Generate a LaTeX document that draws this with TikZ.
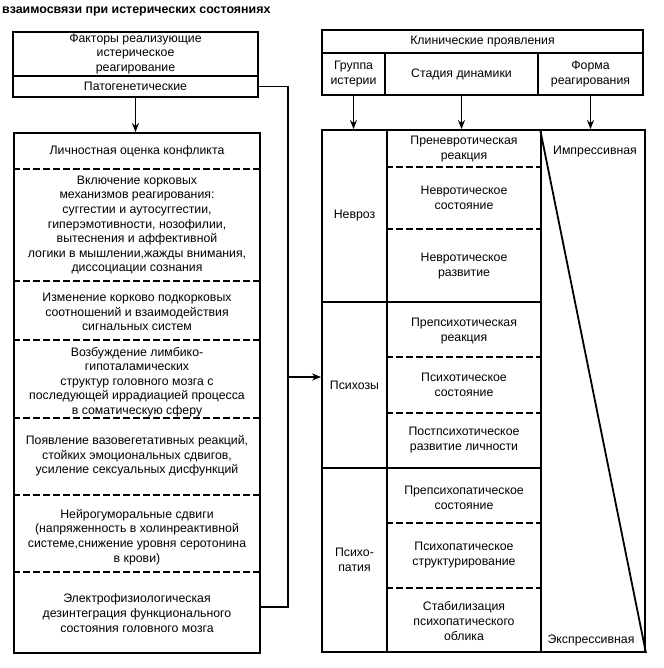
\documentclass[tikz,border=0pt]{standalone}
\usepackage{fontspec}
\setmainfont{Liberation Sans}
\usetikzlibrary{arrows.meta, positioning}

\tikzset{
  frame/.style={draw, line width=1.9pt, inner sep=0pt},
  txt/.style={align=center, inner sep=1pt, font=\fontsize{12.3}{14.6}\selectfont},
  cut/.style={line width=1.5pt, dash pattern=on 7pt off 3pt},
  link/.style={line width=1.8pt},
  arr/.style={link, -{Stealth[length=9pt, width=7pt]}}
}

\begin{document}
\begin{tikzpicture}[x=1pt, y=-1pt]
    \useasboundingbox (0,0) rectangle (663,668);

    % title
    \node[anchor=west, inner sep=0pt, font=\bfseries\fontsize{12.4}{13}\selectfont] (title) at (2,11) {взаимосвязи при истерических состояниях};

    % left column
    \node[frame, txt, minimum width=245pt, minimum height=44pt] (factors) at (135.5,54) {Факторы реализующие\\истерическое\\реагирование};
    \node[frame, txt, minimum width=245pt, minimum height=21pt] (patho) at (135.5,86.5) {Патогенетические};

    \node[frame, minimum width=246pt, minimum height=520pt] (lbox) at (137,393) {};
    \node[txt] (conflict) at (137,151) {Личностная оценка конфликта};
    \node[txt] (cortex) at (137,225) {Включение корковых\\механизмов реагирования:\\суггестии и аутосуггестии,\\гиперэмотивности, нозофилии,\\вытеснения и аффективной\\логики в мышлении,жажды внимания,\\диссоциации сознания};
    \node[txt] (subcort) at (137,312) {Изменение корково подкорковых\\соотношений и взаимодействия\\сигнальных систем};
    \node[txt] (limbic) at (137,382) {Возбуждение лимбико-\\гипоталамических\\структур головного мозга с\\последующей иррадиацией процесса\\в соматическую сферу};
    \node[txt] (vegetat) at (137,456) {Появление вазовегетативных реакций,\\стойких эмоциональных сдвигов,\\усиление сексуальных дисфункций};
    \node[txt] (humoral) at (137,537) {Нейрогуморальные сдвиги\\(напряженность в холинреактивной\\системе,снижение уровня серотонина\\в крови)};
    \node[txt] (electro) at (137,613) {Электрофизиологическая\\дезинтеграция функционального\\состояния головного мозга};
    \foreach \y in {169,281,340,418,495,572}
        \draw[cut] (lbox.west |- 0,\y) -- (lbox.east |- 0,\y);

    % right column, header
    \node[frame, txt, minimum width=321pt, minimum height=23pt] (clin) at (482.5,41.5) {Клинические проявления};
    \node[frame, txt, minimum width=63pt, minimum height=42pt] (hgrp) at (353.5,74) {Группа\\истерии};
    \node[frame, txt, minimum width=153pt, minimum height=42pt] (hstage) at (461.5,74) {Стадия динамики};
    \node[frame, txt, minimum width=105pt, minimum height=42pt] (hform) at (590.5,74) {Форма\\реагирования};

    % right column, body
    \node[frame, txt, minimum width=65pt, minimum height=172pt] (grp1) at (354.5,216) {Невроз};
    \node[frame, txt, minimum width=65pt, minimum height=166pt] (grp2) at (354.5,385) {Психозы};
    \node[frame, txt, minimum width=65pt, minimum height=184pt] (grp3) at (354.5,560) {Психо-\\патия};
    \node[frame, minimum width=154pt, minimum height=172pt] (stg1) at (464,216) {};
    \node[frame, minimum width=154pt, minimum height=166pt] (stg2) at (464,385) {};
    \node[frame, minimum width=154pt, minimum height=184pt] (stg3) at (464,560) {};
    \node[frame, minimum width=104pt, minimum height=522pt] (form) at (593,391) {};

    \node[txt] (prenevr) at (464,149) {Преневротическая\\реакция};
    \node[txt] (nevrsost) at (464,198) {Невротическое\\состояние};
    \node[txt] (nevrrazv) at (464,266) {Невротическое\\развитие};
    \node[txt] (prepsih) at (464,331) {Препсихотическая\\реакция};
    \node[txt] (psihsost) at (464,385) {Психотическое\\состояние};
    \node[txt] (postpsih) at (464,440) {Постпсихотическое\\развитие личности};
    \node[txt] (prepat) at (464,498) {Препсихопатическое\\состояние};
    \node[txt] (patstruct) at (464,555) {Психопатическое\\структурирование};
    \node[txt] (patstab) at (464,621) {Стабилизация\\психопатического\\облика};
    \foreach \y in {167,229,357,413,523,588}
        \draw[cut] (stg1.west |- 0,\y) -- (stg1.east |- 0,\y);

    \draw[link] (form.north west) -- (form.south east);
    \node[txt, below=16pt of form.north, xshift=2pt] (impr) {Импрессивная};
    \node[txt, above=6pt of form.south, xshift=-2pt] (expr) {Экспрессивная};

    % connectors
    \draw[arr] (patho.south) -- (patho.south |- lbox.north);
    \draw[arr] (hgrp.south) -- (hgrp.south |- grp1.north);
    \draw[arr] (hstage.south) -- (hstage.south |- stg1.north);
    \draw[arr] (hform.south) -- (hform.south |- form.north);

    \coordinate (rail) at (288,607);
    \coordinate (tap) at (288,377);
    \draw[link] (patho.east) -| (rail) -- (rail -| lbox.east);
    \draw[arr] (tap) -- (tap -| grp2.west);
\end{tikzpicture}
\end{document}
